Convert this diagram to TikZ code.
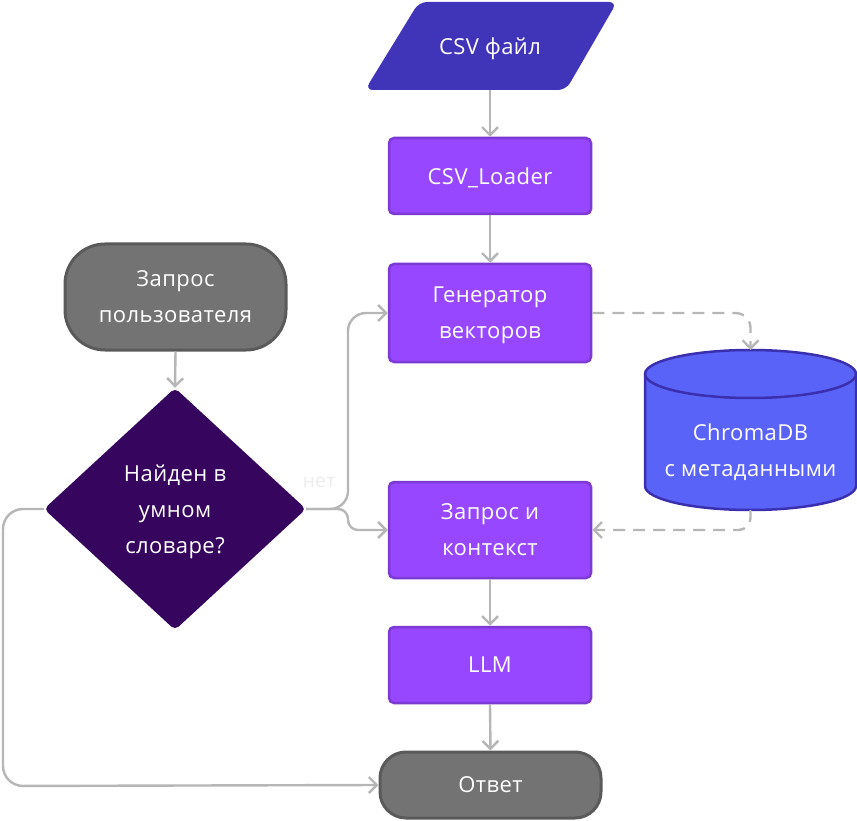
\documentclass[tikz,border=0pt]{standalone}
\usepackage{fontspec}
\setmainfont{Open Sans}[LetterSpace=2]
\usetikzlibrary{arrows.meta}
\definecolor{paraF}{RGB}{64,52,184}
\definecolor{procF}{RGB}{151,71,255}
\definecolor{procB}{RGB}{124,58,212}
\definecolor{termF}{RGB}{115,115,115}
\definecolor{termB}{RGB}{90,90,90}
\definecolor{decF}{RGB}{54,6,94}
\definecolor{dbF}{RGB}{90,99,248}
\definecolor{dbB}{RGB}{58,47,175}
\definecolor{edgeC}{RGB}{182,182,182}
\definecolor{lblC}{RGB}{236,236,236}
\newcommand\nodefont{\fontsize{22}{36}\selectfont}
\begin{document}
\begin{tikzpicture}[x=1pt,y=-1pt,
  every node/.style={text=white, font=\nodefont, align=center, inner sep=0pt, text depth=0pt},
  proc/.style={draw=procB, fill=procF, line width=2.5pt, rounded corners=5pt, minimum width=202pt},
  term/.style={draw=termB, fill=termF, line width=3pt},
  ed/.style={draw=edgeC, line width=2.4pt, -{Straight Barb[length=8pt,width=16pt]}},
  dsh/.style={ed, dash pattern=on 12pt off 8pt}
]
\useasboundingbox (0,0) rectangle (857,821);

% CSV file (parallelogram)
\fill[paraF, rounded corners=8pt] (419,2) -- (617,2) -- (566,90) -- (365,90) -- cycle;
\node[minimum height=88pt, minimum width=150pt] (csv) at (490,46) {CSV файл};

% process boxes
\node[proc, minimum height=76pt] (loader) at (490,176) {CSV\_Loader};
\node[proc, minimum height=98pt] (gen) at (490,313) {Генератор\\векторов};
\node[proc, minimum height=96pt] (qc) at (490,530) {Запрос и\\контекст};
\node[proc, minimum height=76pt] (llm) at (490,665) {LLM};

% terminals
\node[term, rounded corners=40pt, minimum width=221pt, minimum height=106pt] (user) at (175.5,297) {Запрос\\пользователя};
\node[term, rounded corners=26pt, minimum width=221pt, minimum height=66pt] (ans) at (490.5,785) {Ответ};

% decision diamond
\fill[decF, rounded corners=5pt] (175,388) -- (306,509) -- (175,630) -- (44,509) -- cycle;
\node[minimum width=262pt, minimum height=242pt] (dec) at (175,509) {Найден в\\умном\\словаре?};

% database cylinder
\path[fill=dbF, draw=dbB, line width=2.5pt] (645,374) -- (645,486)
  arc[start angle=180, end angle=360, x radius=105.5pt, y radius=24pt] -- (856,374)
  arc[start angle=0, end angle=180, x radius=105.5pt, y radius=24pt] -- cycle;
\draw[dbB, line width=2.5pt] (645,374) arc[start angle=180, end angle=360, x radius=105.5pt, y radius=24pt];
\node (db) at (750.5,450) {ChromaDB\\с метаданными};
\coordinate (dbtop) at (750.5,350);
\coordinate (dbbot) at (750.5,510);

% label
\node[text=lblC, font=\fontsize{19}{20}\selectfont] (no) at (319,482) {нет};

% connectors
\draw[ed] (csv.south) -- (loader.north);
\draw[ed] (loader.south) -- (gen.north);
\draw[ed] (user.south) -- (dec.north);
\draw[ed, rounded corners=18pt] (dec.east) -- (348,509) -- (348,313) -- (gen.west);
\draw[ed, rounded corners=10pt] (dec.east) -- (348,509) -- (348,530) -- (qc.west);
\draw[ed, rounded corners=20pt] (dec.west) -- (3,509) -- (3,786) -- (ans.west);
\draw[dsh, rounded corners=15pt] (gen.east) -- (750.5,313) -- (dbtop);
\draw[dsh, rounded corners=12pt] (dbbot) -- (750.5,530) -- (qc.east);
\draw[ed] (qc.south) -- (llm.north);
\draw[ed] (llm.south) -- (ans.north);
\end{tikzpicture}
\end{document}
